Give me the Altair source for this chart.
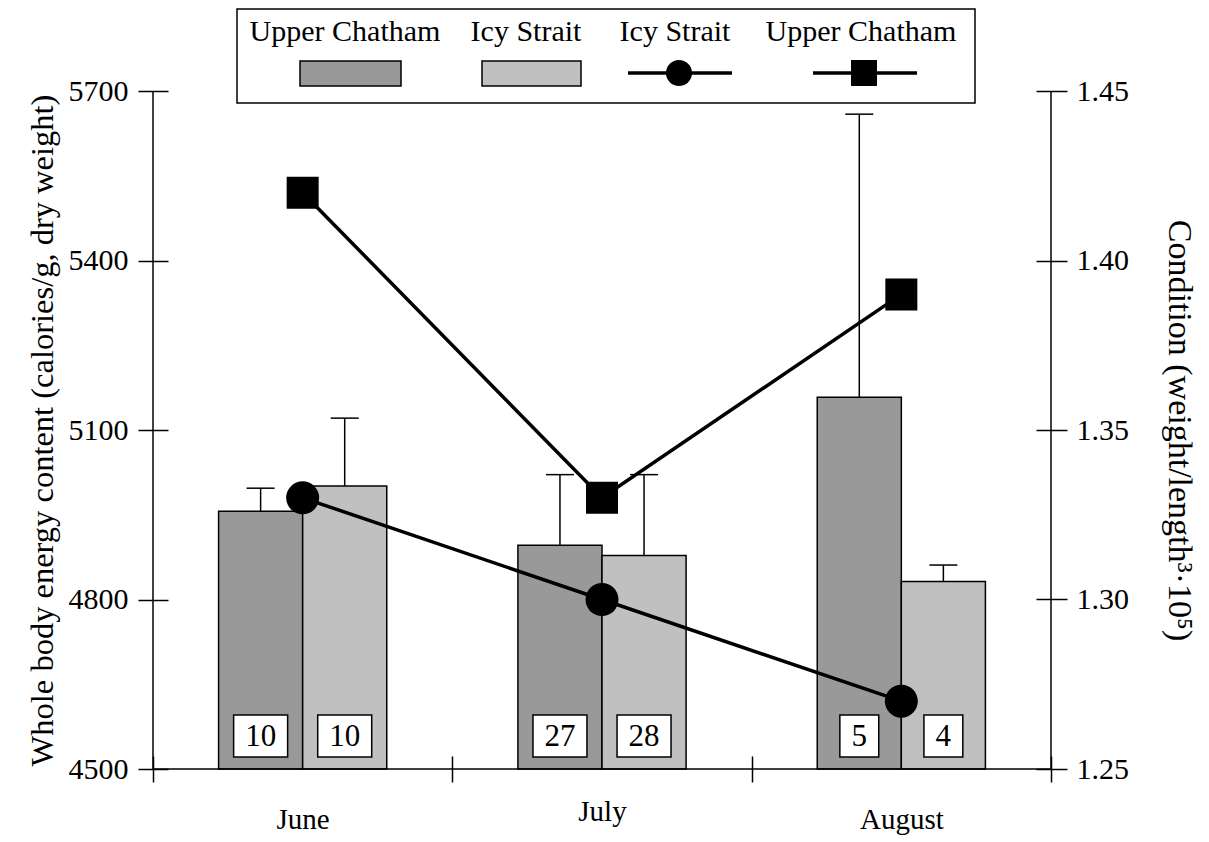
import altair as alt
import pandas as pd

# ---------------- data ----------------
MONTHS = ["June", "July", "August"]
SITES = ["Upper Chatham", "Icy Strait"]
ENERGY_UC = [4956, 4896, 5158]
ENERGY_IS = [5001, 4878, 4832]
ENERGY_UC_TOP = [4997, 5021, 5659]
ENERGY_IS_TOP = [5121, 5021, 4861]
N_UC = [10, 27, 5]
N_IS = [10, 28, 4]
COND_IS = [1.33, 1.30, 1.27]
COND_UC = [1.42, 1.33, 1.39]
ENERGY_TICKS = [4500, 4800, 5100, 5400, 5700]
COND_TICKS = [1.25, 1.30, 1.35, 1.40, 1.45]
LEGEND_LABELS = ["Upper Chatham", "Icy Strait", "Icy Strait", "Upper Chatham"]
LEFT_TITLE = "Whole body energy content (calories/g, dry weight)"
RIGHT_TITLE = "Condition (weight/length³·10⁵)"

# ---------------- layout / style ----------------
W, H = 898, 678
FONT = "'Liberation Serif', 'Times New Roman', Times, serif"
BAR_COLORS = ["#999999", "#c0c0c0"]
LW = 1.5
LINE_W = 3.5
BOX_Y = H - 33
LEG_TEXT_X = [192, 373, 522, 708]
LEG_TEXT_Y = -50
LEG_SYM_Y = -18

bars_df = pd.DataFrame({
    "month": MONTHS * 2,
    "site": [SITES[0]] * 3 + [SITES[1]] * 3,
    "energy": ENERGY_UC + ENERGY_IS,
    "top": ENERGY_UC_TOP + ENERGY_IS_TOP,
    "n": N_UC + N_IS,
})
cond_df = pd.DataFrame({
    "month": MONTHS * 2,
    "site": [SITES[1]] * 3 + [SITES[0]] * 3,
    "cond": COND_IS + COND_UC,
})
legend_df = pd.DataFrame({"key": list(range(4)), "label": LEGEND_LABELS})
one = pd.DataFrame({"k": [0]})

x_enc = alt.X(
    "month:N", sort=MONTHS,
    scale=alt.Scale(paddingInner=0, paddingOuter=0),
    axis=alt.Axis(
        title=None, labelAngle=0, tickBand="extent", offset=-13, tickSize=26,
        domain=False, grid=False, labelFont=FONT, labelFontSize=29, labelColor="black",
        labelPadding={"condition": {"test": "datum.value == 'July'", "value": 15}, "value": 23},
        tickColor="black", tickWidth=LW,
    ),
)
xoff = alt.XOffset("site:N", sort=SITES, scale=alt.Scale(paddingInner=0, paddingOuter=0.78))

y_left = alt.Y(
    "energy:Q",
    scale=alt.Scale(domain=[ENERGY_TICKS[0], ENERGY_TICKS[-1]], nice=False, zero=False),
    axis=alt.Axis(
        values=ENERGY_TICKS, format="d", offset=-15, tickSize=30, domain=False, grid=False,
        labelFont=FONT, labelFontSize=30, labelColor="black", labelPadding=10,
        tickColor="black", tickWidth=LW,
        title=LEFT_TITLE, titleFont=FONT, titleFontSize=32.5, titleFontWeight="normal",
        titleColor="black", titlePadding=9,
    ),
)

base = alt.Chart(bars_df)
bars = base.mark_bar(stroke="black", strokeWidth=LW).encode(
    x=x_enc, xOffset=xoff, y=y_left, y2=alt.datum(ENERGY_TICKS[0]),
    color=alt.Color("site:N", scale=alt.Scale(domain=SITES, range=BAR_COLORS), legend=None),
)
err = base.mark_rule(color="black", strokeWidth=LW).encode(
    x=x_enc, xOffset=xoff, y=y_left, y2="top:Q",
)
caps = base.mark_tick(color="black", thickness=LW, size=28, opacity=1).encode(
    x=x_enc, xOffset=xoff, y=alt.Y("top:Q"),
)
P1 = "M-0.72,-0.78L0.72,-0.78L0.72,0.78L-0.72,0.78Z"
P2 = "M-1,-0.78L1,-0.78L1,0.78L-1,0.78Z"
boxes = base.transform_calculate(
    nd="datum.n >= 10 ? 'two' : 'one'"
).mark_point(filled=True, fill="white", stroke="black", strokeWidth=LW,
             opacity=1, fillOpacity=1, size=54 * 54).encode(
    x=x_enc, xOffset=xoff, y=alt.value(BOX_Y),
    shape=alt.Shape("nd:N", scale=alt.Scale(domain=["one", "two"], range=[P1, P2]), legend=None),
)
counts = base.mark_text(font=FONT, fontSize=31, baseline="middle", dy=1, color="black").encode(
    x=x_enc, xOffset=xoff, y=alt.value(BOX_Y), text="n:Q",
)
left = alt.layer(bars, err, caps, boxes, counts)

y_right = alt.Y(
    "cond:Q",
    scale=alt.Scale(domain=[COND_TICKS[0], COND_TICKS[-1]], nice=False, zero=False),
    axis=alt.Axis(
        orient="right", values=COND_TICKS, format=".2f", offset=-15, tickSize=31,
        domain=False, grid=False, labelFont=FONT, labelFontSize=30, labelColor="black",
        labelPadding=9, tickColor="black", tickWidth=LW,
        title=RIGHT_TITLE, titleFont=FONT, titleFontSize=34, titleFontWeight="normal",
        titleColor="black", titlePadding=33,
    ),
)
cbase = alt.Chart(cond_df)
lines = cbase.mark_line(color="black", strokeWidth=LINE_W).encode(
    x=x_enc, y=y_right, detail="site:N",
)
pts_is = cbase.transform_filter(alt.datum.site == SITES[1]).mark_point(
    shape="circle", filled=True, color="black", opacity=1, size=33 * 33
).encode(x=x_enc, y=y_right)
pts_uc = cbase.transform_filter(alt.datum.site == SITES[0]).mark_point(
    shape="square", filled=True, color="black", opacity=1, size=32 * 32
).encode(x=x_enc, y=y_right)
right = alt.layer(lines, pts_is, pts_uc)

# ---------------- axis lines & legend ----------------
dec = alt.Chart(one)
axis_lines = [
    dec.mark_rule(color="black", strokeWidth=LW).encode(x=alt.value(0), y=alt.value(0), y2=alt.value(H)),
    dec.mark_rule(color="black", strokeWidth=LW).encode(x=alt.value(W), y=alt.value(0), y2=alt.value(H)),
    dec.mark_rule(color="black", strokeWidth=LW).encode(x=alt.value(0), x2=alt.value(W), y=alt.value(H)),
]
legend_parts = [
    dec.mark_rect(fill=None, fillOpacity=0, stroke="black", strokeWidth=LW).encode(
        x=alt.value(84), x2=alt.value(822), y=alt.value(-82), y2=alt.value(12)),
]
for i in range(4):
    legend_parts.append(
        alt.Chart(legend_df).transform_filter(alt.datum.key == i).mark_text(
            font=FONT, fontSize=30, baseline="alphabetic", align="center", color="black"
        ).encode(text="label:N", x=alt.value(LEG_TEXT_X[i]), y=alt.value(LEG_TEXT_Y))
    )
legend_parts += [
    dec.mark_rect(fill=BAR_COLORS[0], stroke="black", strokeWidth=LW).encode(
        x=alt.value(147), x2=alt.value(248), y=alt.value(-30), y2=alt.value(-5)),
    dec.mark_rect(fill=BAR_COLORS[1], stroke="black", strokeWidth=LW).encode(
        x=alt.value(329), x2=alt.value(428), y=alt.value(-30), y2=alt.value(-5)),
    dec.mark_rule(color="black", strokeWidth=LINE_W).encode(
        x=alt.value(475), x2=alt.value(579), y=alt.value(LEG_SYM_Y)),
    dec.mark_point(shape="circle", filled=True, color="black", opacity=1, size=26 * 26).encode(
        x=alt.value(526), y=alt.value(LEG_SYM_Y)),
    dec.mark_rule(color="black", strokeWidth=LINE_W).encode(
        x=alt.value(660), x2=alt.value(764), y=alt.value(LEG_SYM_Y)),
    dec.mark_point(shape="square", filled=True, color="black", opacity=1, size=26 * 26).encode(
        x=alt.value(711), y=alt.value(LEG_SYM_Y)),
]

chart = alt.layer(left, right, *axis_lines, *legend_parts).resolve_scale(
    y="independent"
).properties(
    width=W, height=H,
    autosize=alt.AutoSizeParams(type="none"),
    padding={"left": 145, "top": 83, "right": 149, "bottom": 72},
).configure(
    font=FONT, view=alt.ViewConfig(stroke=None)
)

chart.save("out.html", embed_options={"renderer": "svg", "actions": False})
